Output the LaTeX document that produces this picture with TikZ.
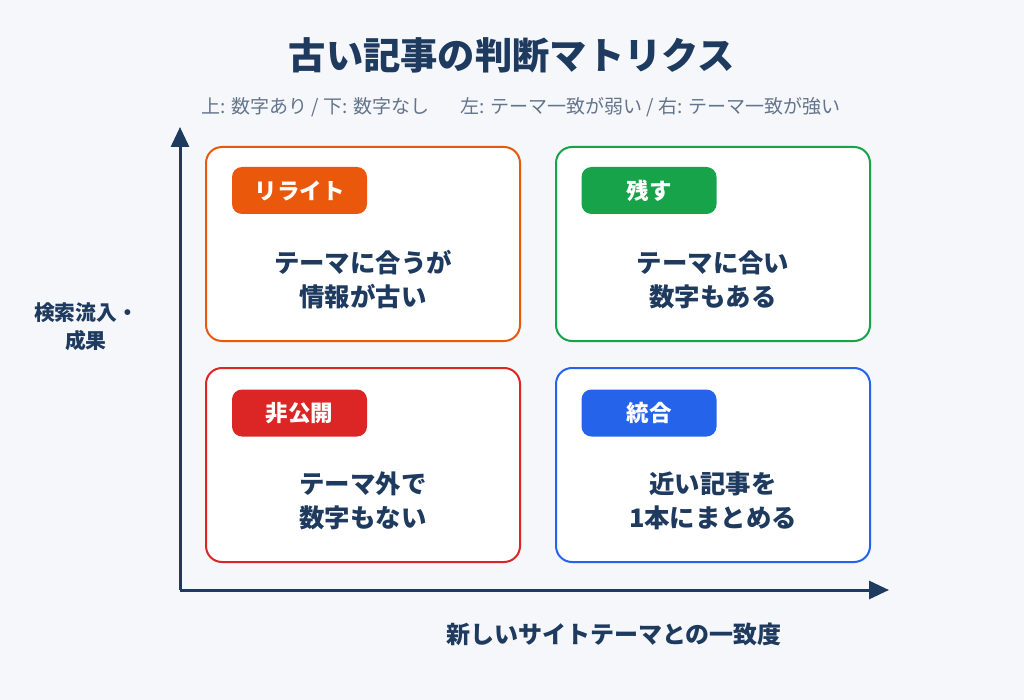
\documentclass[tikz,border=0pt]{standalone}
\usepackage{fontspec}
\setmainfont{Noto Sans CJK JP}
\usepackage{tikz}
\usetikzlibrary{arrows.meta}
\definecolor{bg}{RGB}{245,247,251}
\definecolor{navy}{RGB}{30,58,95}
\definecolor{subgray}{RGB}{100,116,139}
\definecolor{myorange}{RGB}{234,88,12}
\definecolor{mygreen}{RGB}{22,163,74}
\definecolor{myred}{RGB}{220,38,38}
\definecolor{myblue}{RGB}{37,99,235}

\begin{document}
\begin{tikzpicture}[x=1pt,y=-1pt,
    quad/.style={draw=#1,line width=2pt,fill=white,rounded corners=16pt,minimum width=314pt,minimum height=194pt,inner sep=0pt},
    tag/.style={fill=#1,rounded corners=10pt,minimum width=135pt,minimum height=47pt,inner sep=0pt,text=white,font=\fontsize{22.5}{22.5}\selectfont\bfseries},
    body/.style={text=navy,align=center,font=\fontsize{25.4}{34}\selectfont\bfseries},
    axis/.style={navy,line width=3pt,-{Triangle[length=20pt,width=18pt]}}]
    \fill[bg] (0,0) rectangle (1024,700);
    \useasboundingbox (0,0) rectangle (1024,700);
    \node[text=navy,font=\fontsize{37.3}{37.3}\selectfont\bfseries] (title) at (512,55) {古い記事の判断マトリクス};
    \node[text=subgray,font=\fontsize{19}{19}\selectfont] (sub) at (521,107) {上: 数字あり / 下: 数字なし\hspace{31pt}左: テーマ一致が弱い / 右: テーマ一致が強い};
    % quadrants
    \node[quad=myorange] (rewrite) at (363,244) {};
    \node[quad=mygreen] (keep) at (713,244) {};
    \node[quad=myred] (hide) at (363,465) {};
    \node[quad=myblue] (merge) at (713,465) {};
    \node[tag=myorange] (rewritetag) at (299.5,190.5) {リライト};
    \node[tag=mygreen] (keeptag) at (649,190.5) {残す};
    \node[tag=myred] (hidetag) at (299.5,413) {非公開};
    \node[tag=myblue] (mergetag) at (649,413) {統合};
    \node[body] (rewritetext) at (363,280) {テーマに合うが\\情報が古い};
    \node[body] (keeptext) at (713,280) {テーマに合い\\数字もある};
    \node[body] (hidetext) at (363,501) {テーマ外で\\数字もない};
    \node[body] (mergetext) at (713,501) {近い記事を\\1本にまとめる};
    % axes
    \coordinate (o) at (180,590);
    \coordinate (ytop) at (180,127);
    \coordinate (xend) at (889,590);
    \draw[axis] (o) -- (ytop);
    \draw[axis] (o) -- (xend);
    \node[text=navy,align=center,font=\fontsize{20.8}{28}\selectfont\bfseries] (ylabel) at (86,327) {検索流入・\\成果};
    \node[text=navy,font=\fontsize{24}{24}\selectfont\bfseries] (xlabel) at (614,634) {新しいサイトテーマとの一致度};
\end{tikzpicture}
\end{document}
